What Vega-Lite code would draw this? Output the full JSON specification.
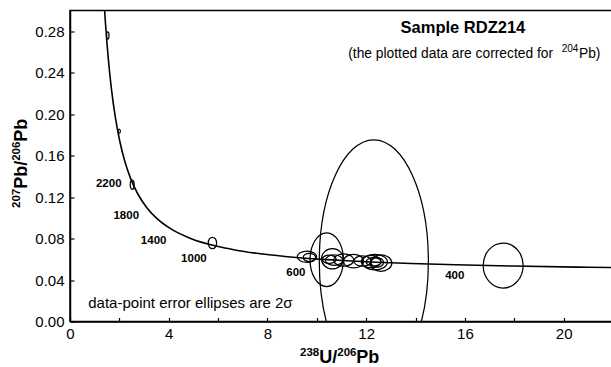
{
  "$schema": "https://vega.github.io/schema/vega-lite/v6.json",
  "width": 543,
  "height": 311,
  "autosize": {"type": "none"},
  "padding": {"left": 70, "top": 10.5, "right": 0, "bottom": 46},
  "background": "white",
  "config": {
    "font": "Liberation Sans",
    "view": {"stroke": "black", "strokeWidth": 1.5},
    "axis": {
      "grid": false,
      "domainColor": "black",
      "domainWidth": 1.5,
      "tickColor": "black",
      "tickWidth": 1.2,
      "labelColor": "black",
      "labelFont": "Liberation Sans",
      "labelFontSize": 15
    },
    "text": {"font": "Liberation Sans", "color": "black"}
  },
  "datasets": {
    "concordia": [
      {"t": 280, "u": 22.527, "r": 0.05188},
      {"t": 300, "u": 20.992, "r": 0.05233},
      {"t": 350, "u": 17.923, "r": 0.0535},
      {"t": 400, "u": 15.621, "r": 0.0547},
      {"t": 450, "u": 13.831, "r": 0.05594},
      {"t": 500, "u": 12.399, "r": 0.05722},
      {"t": 550, "u": 11.228, "r": 0.05854},
      {"t": 600, "u": 10.252, "r": 0.0599},
      {"t": 700, "u": 8.718, "r": 0.06276},
      {"t": 800, "u": 7.568, "r": 0.0658},
      {"t": 900, "u": 6.674, "r": 0.06904},
      {"t": 1000, "u": 5.959, "r": 0.0725},
      {"t": 1200, "u": 4.888, "r": 0.08012},
      {"t": 1400, "u": 4.123, "r": 0.08881},
      {"t": 1600, "u": 3.55, "r": 0.09872},
      {"t": 1800, "u": 3.105, "r": 0.11004},
      {"t": 2000, "u": 2.749, "r": 0.12299},
      {"t": 2200, "u": 2.459, "r": 0.13782},
      {"t": 2400, "u": 2.217, "r": 0.15483},
      {"t": 2600, "u": 2.013, "r": 0.17437},
      {"t": 2800, "u": 1.838, "r": 0.19682},
      {"t": 3000, "u": 1.687, "r": 0.22266},
      {"t": 3200, "u": 1.556, "r": 0.25242},
      {"t": 3400, "u": 1.44, "r": 0.28674},
      {"t": 3500, "u": 1.387, "r": 0.30583}
    ],
    "ellipses": [
      {"id": "e1", "u": 1.53, "r": 0.276, "hw": 0.05, "hh": 0.0035},
      {"id": "e2", "u": 1.99, "r": 0.1835, "hw": 0.05, "hh": 0.002},
      {"id": "e3", "u": 2.52, "r": 0.132, "hw": 0.08, "hh": 0.0045},
      {"id": "e4", "u": 5.77, "r": 0.0757, "hw": 0.17, "hh": 0.0055},
      {"id": "e5", "u": 9.6, "r": 0.0625, "hw": 0.39, "hh": 0.0055},
      {"id": "e6", "u": 9.7, "r": 0.0618, "hw": 0.25, "hh": 0.004},
      {"id": "e7", "u": 10.4, "r": 0.0596, "hw": 0.675, "hh": 0.0258},
      {"id": "e8", "u": 10.63, "r": 0.0605, "hw": 0.44, "hh": 0.0097},
      {"id": "e9", "u": 10.5, "r": 0.06, "hw": 0.28, "hh": 0.004},
      {"id": "e10", "u": 10.7, "r": 0.0592, "hw": 0.35, "hh": 0.005},
      {"id": "e11", "u": 11.09, "r": 0.0593, "hw": 0.41, "hh": 0.006},
      {"id": "e12", "u": 11.49, "r": 0.0582, "hw": 0.41, "hh": 0.0065},
      {"id": "e13", "u": 11.85, "r": 0.0583, "hw": 0.35, "hh": 0.005},
      {"id": "e14", "u": 12.2, "r": 0.0578, "hw": 0.4, "hh": 0.006},
      {"id": "e15", "u": 12.35, "r": 0.0573, "hw": 0.51, "hh": 0.0075},
      {"id": "e16", "u": 12.6, "r": 0.0564, "hw": 0.44, "hh": 0.008},
      {"id": "e17", "u": 12.3, "r": 0.0575, "hw": 0.3, "hh": 0.004},
      {"id": "e18", "u": 12.45, "r": 0.057, "hw": 0.25, "hh": 0.0045},
      {"id": "e19", "u": 12.31, "r": 0.058, "hw": 2.21, "hh": 0.1175},
      {"id": "e20", "u": 17.55, "r": 0.054, "hw": 0.81, "hh": 0.0217}
    ],
    "ages": [
      {"lbl": "2200", "u": 1.57, "r": 0.1327},
      {"lbl": "1800", "u": 2.28, "r": 0.1014},
      {"lbl": "1400", "u": 3.39, "r": 0.0779},
      {"lbl": "1000", "u": 5.02, "r": 0.0602},
      {"lbl": "600", "u": 9.15, "r": 0.0467},
      {"lbl": "400", "u": 15.59, "r": 0.0441}
    ],
    "xTitleMain": [
      {"txt": "U/", "u": 10.10, "r": -0.040},
      {"txt": "Pb", "u": 11.60, "r": -0.040}
    ],
    "xTitleSup": [
      {"txt": "238", "u": 9.32, "r": -0.040},
      {"txt": "206", "u": 10.83, "r": -0.040}
    ],
    "yTitleMain": [
      {"txt": "Pb", "u": -1.742, "r": 0.128},
      {"txt": "/", "u": -1.742, "r": 0.1502},
      {"txt": "Pb", "u": -1.742, "r": 0.1735}
    ],
    "yTitleSup": [
      {"txt": "207", "u": -1.742, "r": 0.1095},
      {"txt": "206", "u": -1.742, "r": 0.155}
    ],
    "noteRight": [
      {"txt": "(the plotted data are corrected for", "u": 19.57, "r": 0.2542}
    ],
    "noteEnd": [
      {"txt": "Pb)", "u": 20.62, "r": 0.2542}
    ],
    "noteSup": [
      {"txt": "204", "u": 19.92, "r": 0.2542}
    ],
    "titleNote": [
      {"txt": "Sample RDZ214", "u": 15.92, "r": 0.2836}
    ],
    "leftNote": [
      {"txt": "data-point error ellipses are 2σ", "u": 0.74, "r": 0.0178}
    ]
  },
  "layer": [
    {
      "data": {"name": "concordia"},
      "mark": {"type": "line", "color": "black", "strokeWidth": 1.6, "interpolate": "monotone", "clip": true},
      "encoding": {
        "x": {
          "field": "u", "type": "quantitative", "title": null,
          "scale": {"domain": [0, 22], "nice": false, "zero": false},
          "axis": {
            "values": [0, 2, 4, 6, 8, 10, 12, 14, 16, 18, 20, 22],
            "format": "d",
            "labelExpr": "datum.value % 4 === 0 ? datum.label : ''",
            "tickSize": -4,
            "labelPadding": 9,
            "labelFlush": false
          }
        },
        "y": {
          "field": "r", "type": "quantitative", "title": null,
          "scale": {"domain": [0, 0.3], "nice": false, "zero": false},
          "axis": {
            "values": [0, 0.02, 0.04, 0.06, 0.08, 0.1, 0.12, 0.14, 0.16, 0.18, 0.2, 0.22, 0.24, 0.26, 0.28],
            "format": ".2f",
            "labelExpr": "round(datum.value * 100) % 4 === 0 ? datum.label : ''",
            "tickSize": -4,
            "labelPadding": 10,
            "labelFlush": false
          }
        }
      }
    },
    {
      "data": {"name": "ellipses"},
      "mark": {"type": "point", "filled": false, "color": "black", "strokeWidth": 1.25, "opacity": 1, "clip": true},
      "encoding": {
        "x": {"field": "u", "type": "quantitative", "title": null},
        "y": {"field": "r", "type": "quantitative", "title": null},
        "size": {
          "field": "hw", "type": "quantitative", "legend": null,
          "scale": {"type": "pow", "exponent": 2, "domain": [0, 1], "range": [0, 2436]}
        },
        "shape": {
          "field": "id", "type": "nominal", "legend": null,
          "scale": {
            "domain": ["e1", "e2", "e3", "e4", "e5", "e6", "e7", "e8", "e9", "e10", "e11", "e12", "e13", "e14", "e15", "e16", "e17", "e18", "e19", "e20"],
            "range": [
              "M1,0C1,1.624,0.552,2.94,0,2.94C-0.552,2.94,-1,1.624,-1,0C-1,-1.624,-0.552,-2.94,0,-2.94C0.552,-2.94,1,-1.624,1,0Z",
              "M1,0C1,0.928,0.552,1.68,0,1.68C-0.552,1.68,-1,0.928,-1,0C-1,-0.928,-0.552,-1.68,0,-1.68C0.552,-1.68,1,-0.928,1,0Z",
              "M1,0C1,1.303,0.552,2.36,0,2.36C-0.552,2.36,-1,1.303,-1,0C-1,-1.303,-0.552,-2.36,0,-2.36C0.552,-2.36,1,-1.303,1,0Z",
              "M1,0C1,0.751,0.552,1.36,0,1.36C-0.552,1.36,-1,0.751,-1,0C-1,-0.751,-0.552,-1.36,0,-1.36C0.552,-1.36,1,-0.751,1,0Z",
              "M1,0C1,0.326,0.552,0.59,0,0.59C-0.552,0.59,-1,0.326,-1,0C-1,-0.326,-0.552,-0.59,0,-0.59C0.552,-0.59,1,-0.326,1,0Z",
              "M1,0C1,0.37,0.552,0.67,0,0.67C-0.552,0.67,-1,0.37,-1,0C-1,-0.37,-0.552,-0.67,0,-0.67C0.552,-0.67,1,-0.37,1,0Z",
              "M1,0C1,0.889,0.552,1.61,0,1.61C-0.552,1.61,-1,0.889,-1,0C-1,-0.889,-0.552,-1.61,0,-1.61C0.552,-1.61,1,-0.889,1,0Z",
              "M1,0C1,0.514,0.552,0.93,0,0.93C-0.552,0.93,-1,0.514,-1,0C-1,-0.514,-0.552,-0.93,0,-0.93C0.552,-0.93,1,-0.514,1,0Z",
              "M1,0C1,0.331,0.552,0.6,0,0.6C-0.552,0.6,-1,0.331,-1,0C-1,-0.331,-0.552,-0.6,0,-0.6C0.552,-0.6,1,-0.331,1,0Z",
              "M1,0C1,0.331,0.552,0.6,0,0.6C-0.552,0.6,-1,0.331,-1,0C-1,-0.331,-0.552,-0.6,0,-0.6C0.552,-0.6,1,-0.331,1,0Z",
              "M1,0C1,0.337,0.552,0.61,0,0.61C-0.552,0.61,-1,0.337,-1,0C-1,-0.337,-0.552,-0.61,0,-0.61C0.552,-0.61,1,-0.337,1,0Z",
              "M1,0C1,0.37,0.552,0.67,0,0.67C-0.552,0.67,-1,0.37,-1,0C-1,-0.37,-0.552,-0.67,0,-0.67C0.552,-0.67,1,-0.37,1,0Z",
              "M1,0C1,0.331,0.552,0.6,0,0.6C-0.552,0.6,-1,0.331,-1,0C-1,-0.331,-0.552,-0.6,0,-0.6C0.552,-0.6,1,-0.331,1,0Z",
              "M1,0C1,0.348,0.552,0.63,0,0.63C-0.552,0.63,-1,0.348,-1,0C-1,-0.348,-0.552,-0.63,0,-0.63C0.552,-0.63,1,-0.348,1,0Z",
              "M1,0C1,0.342,0.552,0.62,0,0.62C-0.552,0.62,-1,0.342,-1,0C-1,-0.342,-0.552,-0.62,0,-0.62C0.552,-0.62,1,-0.342,1,0Z",
              "M1,0C1,0.42,0.552,0.76,0,0.76C-0.552,0.76,-1,0.42,-1,0C-1,-0.42,-0.552,-0.76,0,-0.76C0.552,-0.76,1,-0.42,1,0Z",
              "M1,0C1,0.309,0.552,0.56,0,0.56C-0.552,0.56,-1,0.309,-1,0C-1,-0.309,-0.552,-0.56,0,-0.56C0.552,-0.56,1,-0.309,1,0Z",
              "M1,0C1,0.42,0.552,0.76,0,0.76C-0.552,0.76,-1,0.42,-1,0C-1,-0.42,-0.552,-0.76,0,-0.76C0.552,-0.76,1,-0.42,1,0Z",
              "M1,0C1,1.232,0.552,2.23,0,2.23C-0.552,2.23,-1,1.232,-1,0C-1,-1.232,-0.552,-2.23,0,-2.23C0.552,-2.23,1,-1.232,1,0Z",
              "M1,0C1,0.621,0.552,1.125,0,1.125C-0.552,1.125,-1,0.621,-1,0C-1,-0.621,-0.552,-1.125,0,-1.125C0.552,-1.125,1,-0.621,1,0Z"
            ]
          }
        }
      }
    },
    {
      "data": {"name": "ages"},
      "mark": {"type": "text", "fontSize": 11.5, "fontWeight": "bold", "align": "center", "baseline": "middle"},
      "encoding": {
        "x": {"field": "u", "type": "quantitative", "title": null},
        "y": {"field": "r", "type": "quantitative", "title": null},
        "text": {"field": "lbl"}
      }
    },
    {
      "data": {"name": "titleNote"},
      "mark": {"type": "text", "fontSize": 16.5, "fontWeight": "bold", "align": "center", "baseline": "middle"},
      "encoding": {
        "x": {"field": "u", "type": "quantitative", "title": null},
        "y": {"field": "r", "type": "quantitative", "title": null},
        "text": {"field": "txt"}
      }
    },
    {
      "data": {"name": "noteRight"},
      "mark": {"type": "text", "fontSize": 13.8, "align": "right", "baseline": "alphabetic"},
      "encoding": {
        "x": {"field": "u", "type": "quantitative", "title": null},
        "y": {"field": "r", "type": "quantitative", "title": null},
        "text": {"field": "txt"}
      }
    },
    {
      "data": {"name": "noteEnd"},
      "mark": {"type": "text", "fontSize": 13.8, "align": "left", "baseline": "alphabetic"},
      "encoding": {
        "x": {"field": "u", "type": "quantitative", "title": null},
        "y": {"field": "r", "type": "quantitative", "title": null},
        "text": {"field": "txt"}
      }
    },
    {
      "data": {"name": "noteSup"},
      "mark": {"type": "text", "fontSize": 10, "align": "left", "baseline": "alphabetic", "dy": -6},
      "encoding": {
        "x": {"field": "u", "type": "quantitative", "title": null},
        "y": {"field": "r", "type": "quantitative", "title": null},
        "text": {"field": "txt"}
      }
    },
    {
      "data": {"name": "leftNote"},
      "mark": {"type": "text", "fontSize": 15, "align": "left", "baseline": "middle"},
      "encoding": {
        "x": {"field": "u", "type": "quantitative", "title": null},
        "y": {"field": "r", "type": "quantitative", "title": null},
        "text": {"field": "txt"}
      }
    },
    {
      "data": {"name": "xTitleMain"},
      "mark": {"type": "text", "fontSize": 18, "fontWeight": "bold", "align": "left", "baseline": "alphabetic"},
      "encoding": {
        "x": {"field": "u", "type": "quantitative", "title": null},
        "y": {"field": "r", "type": "quantitative", "title": null},
        "text": {"field": "txt"}
      }
    },
    {
      "data": {"name": "xTitleSup"},
      "mark": {"type": "text", "fontSize": 11.5, "fontWeight": "bold", "align": "left", "baseline": "alphabetic", "dy": -7},
      "encoding": {
        "x": {"field": "u", "type": "quantitative", "title": null},
        "y": {"field": "r", "type": "quantitative", "title": null},
        "text": {"field": "txt"}
      }
    },
    {
      "data": {"name": "yTitleMain"},
      "mark": {"type": "text", "fontSize": 18, "fontWeight": "bold", "align": "left", "baseline": "alphabetic", "angle": 270},
      "encoding": {
        "x": {"field": "u", "type": "quantitative", "title": null},
        "y": {"field": "r", "type": "quantitative", "title": null},
        "text": {"field": "txt"}
      }
    },
    {
      "data": {"name": "yTitleSup"},
      "mark": {"type": "text", "fontSize": 11.5, "fontWeight": "bold", "align": "left", "baseline": "alphabetic", "angle": 270, "dy": -7},
      "encoding": {
        "x": {"field": "u", "type": "quantitative", "title": null},
        "y": {"field": "r", "type": "quantitative", "title": null},
        "text": {"field": "txt"}
      }
    }
  ]
}
